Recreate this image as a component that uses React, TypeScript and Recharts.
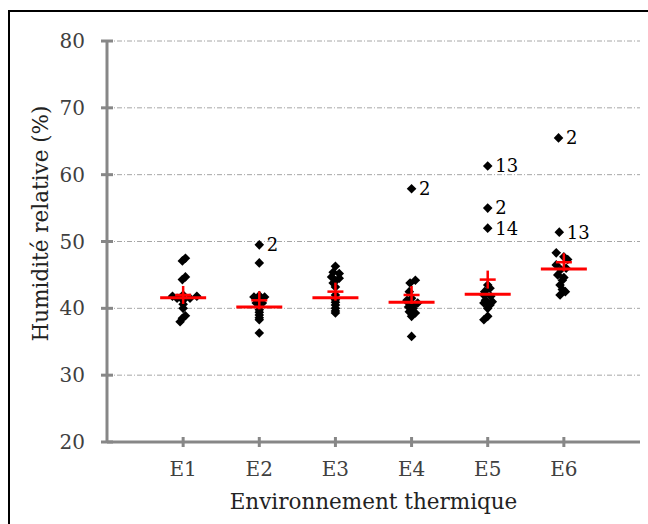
import { ComposedChart, Scatter, XAxis, YAxis, CartesianGrid, LabelList, Label } from "recharts"

const categories = ["E1", "E2", "E3", "E4", "E5", "E6"]

// relative humidity (%) per thermal environment, with horizontal jitter and outlier labels
const valuesE1 = [47.5, 47.1, 44.7, 44.3, 42.0, 41.8, 41.8, 41.5, 41.5, 41.2, 40.6, 40.0, 38.9, 38.5, 38.0]
const jitterE1 = [0.03, -0.01, 0.03, -0.01, 0.0, -0.14, 0.18, -0.08, 0.09, 0.0, 0.0, 0.0, 0.03, -0.01, -0.04]
const labelsE1 = ["", "", "", "", "", "", "", "", "", "", "", "", "", "", ""]

const valuesE2 = [49.5, 46.8, 41.9, 41.7, 41.7, 41.2, 40.8, 40.8, 40.3, 39.8, 39.4, 39.0, 38.6, 38.3, 36.3]
const jitterE2 = [0, 0, 0, -0.07, 0.07, 0, -0.04, 0.04, 0, 0, 0, 0, 0, 0, 0]
const labelsE2 = ["2", "", "", "", "", "", "", "", "", "", "", "", "", "", ""]

const valuesE3 = [46.3, 45.4, 45.2, 44.7, 44.5, 44.1, 43.8, 43.2, 42.0, 41.3, 40.9, 40.5, 40.0, 39.6, 39.3]
const jitterE3 = [0, -0.03, 0.05, -0.05, 0.05, 0, -0.03, 0, 0, 0, 0, 0, 0, 0, 0]
const labelsE3 = ["", "", "", "", "", "", "", "", "", "", "", "", "", "", ""]

const valuesE4 = [57.9, 44.2, 43.8, 42.5, 41.5, 41.2, 40.9, 40.8, 40.5, 40.2, 40.0, 39.5, 39.3, 38.8, 35.8]
const jitterE4 = [0, 0.05, -0.02, -0.03, 0, -0.06, -0.05, 0.08, 0.03, -0.04, 0.02, -0.03, 0.05, 0, 0]
const labelsE4 = ["2", "", "", "", "", "", "", "", "", "", "", "", "", "", ""]

const valuesE5 = [61.3, 55.0, 52.0, 43.5, 43.0, 42.5, 42.0, 41.8, 41.2, 41.0, 40.8, 40.5, 40.0, 38.8, 38.3]
const jitterE5 = [0, 0, 0, 0, 0.03, -0.04, -0.05, 0.04, -0.03, 0.06, -0.05, 0.03, 0, 0, -0.05]
const labelsE5 = ["13", "2", "14", "", "", "", "", "", "", "", "", "", "", "", ""]

const valuesE6 = [65.5, 51.4, 48.3, 47.7, 47.3, 46.5, 46.0, 45.8, 45.0, 44.6, 44.2, 43.5, 42.8, 42.5, 42.0]
const jitterE6 = [-0.07, -0.06, -0.1, 0, 0.05, -0.1, 0.03, -0.04, -0.08, 0, -0.02, -0.05, -0.02, 0.02, -0.05]
const labelsE6 = ["2", "13", "", "", "", "", "", "", "", "", "", "", "", "", ""]

const medians = [41.6, 40.2, 41.6, 40.9, 42.1, 45.9]
const means = [42.0, 41.2, 42.5, 42.0, 44.3, 46.9]

const yTicks = [20, 30, 40, 50, 60, 70, 80]

const groups = [
  [valuesE1, jitterE1, labelsE1],
  [valuesE2, jitterE2, labelsE2],
  [valuesE3, jitterE3, labelsE3],
  [valuesE4, jitterE4, labelsE4],
  [valuesE5, jitterE5, labelsE5],
  [valuesE6, jitterE6, labelsE6],
] as const

const points = groups.flatMap(([vals, jit, labs], i) =>
  vals.map((v, j) => ({ x: i + 1 + jit[j], y: v, label: labs[j] || undefined }))
)
const medianData = medians.map((m, i) => ({ x: i + 1, y: m }))
const meanData = means.map((m, i) => ({ x: i + 1, y: m }))

const font = "DejaVu Serif"
const axisColor = "#878787"

const Diamond = (p: any) => {
  const { cx, cy } = p
  const r = 4.8
  return <polygon points={`${cx},${cy - r} ${cx + r},${cy} ${cx},${cy + r} ${cx - r},${cy}`} fill="#000" />
}

const MedianBar = (p: any) => (
  <line x1={p.cx - 23} x2={p.cx + 23} y1={p.cy} y2={p.cy} stroke="#ff0000" strokeWidth={3} />
)

const MeanPlus = (p: any) => (
  <g>
    <line x1={p.cx - 8} x2={p.cx + 8} y1={p.cy} y2={p.cy} stroke="#ff0000" strokeWidth={2.5} />
    <line x1={p.cx} x2={p.cx} y1={p.cy - 9} y2={p.cy + 9} stroke="#ff0000" strokeWidth={2.5} />
  </g>
)

const YTick = (props: any) => {
  const { x, y, payload } = props
  return (
    <g>
      <line x1={x - 6} x2={x + 6} y1={y} y2={y} stroke={axisColor} strokeWidth={3} />
      <text x={x - 22} y={y} textAnchor="end" dominantBaseline="central" fill="#404040" fontSize={20} fontFamily={font}>
        {payload.value}
      </text>
    </g>
  )
}

const XTick = (props: any) => {
  const { x, y, payload } = props
  return (
    <g>
      <line x1={x} x2={x} y1={y - 5} y2={y + 5} stroke={axisColor} strokeWidth={3} />
      <text x={x} y={y + 27} textAnchor="middle" dominantBaseline="central" fill="#404040" fontSize={20} fontFamily={font}>
        {categories[payload.value - 1]}
      </text>
    </g>
  )
}

export default function App() {
  return (
    <div style={{ position: "absolute", left: 0, top: 0, width: 648, height: 524, background: "#fff" }}>
      <div
        style={{
          position: "absolute",
          left: 8,
          top: 10,
          width: 640,
          height: 514,
          boxSizing: "border-box",
          borderTop: "2px solid #000",
          borderLeft: "2px solid #000",
        }}
      />
      <div style={{ position: "absolute", left: 0, top: 0 }}>
        <ComposedChart width={648} height={524} margin={{ top: 41, right: 8, bottom: 22, left: 0 }}>
          <CartesianGrid horizontal vertical={false} stroke="#a6a6a6" strokeDasharray="5 2 1 2" />
          <XAxis
            type="number"
            dataKey="x"
            domain={[0, 7]}
            ticks={[1, 2, 3, 4, 5, 6]}
            allowDataOverflow
            height={60}
            tickSize={0}
            tickMargin={0}
            tickLine={false}
            axisLine={{ stroke: axisColor, strokeWidth: 3 }}
            tick={<XTick />}
          >
            <Label
              content={(p: any) => (
                <text
                  x={p.viewBox.x + p.viewBox.width / 2}
                  y={p.viewBox.y + 59}
                  textAnchor="middle"
                  dominantBaseline="central"
                  fill="#222"
                  fontSize={21.5}
                  fontFamily={font}
                >
                  Environnement thermique
                </text>
              )}
            />
          </XAxis>
          <YAxis
            type="number"
            dataKey="y"
            domain={[20, 80]}
            ticks={yTicks}
            width={107}
            tickSize={0}
            tickMargin={0}
            tickLine={false}
            axisLine={{ stroke: axisColor, strokeWidth: 3 }}
            tick={<YTick />}
          >
            <Label
              content={(p: any) => (
                <text
                  transform={`translate(${p.viewBox.x + 40},${p.viewBox.y + p.viewBox.height / 2 - 18}) rotate(-90)`}
                  textAnchor="middle"
                  dominantBaseline="central"
                  fill="#222"
                  fontSize={21.5}
                  fontFamily={font}
                >
                  Humidité relative (%)
                </text>
              )}
            />
          </YAxis>
          <Scatter data={points} shape={<Diamond />} isAnimationActive={false}>
            <LabelList dataKey="label" position="right" offset={3} fill="#000" fontSize={18} fontFamily={font} />
          </Scatter>
          <Scatter data={medianData} shape={<MedianBar />} isAnimationActive={false} />
          <Scatter data={meanData} shape={<MeanPlus />} isAnimationActive={false} />
        </ComposedChart>
      </div>
    </div>
  )
}
